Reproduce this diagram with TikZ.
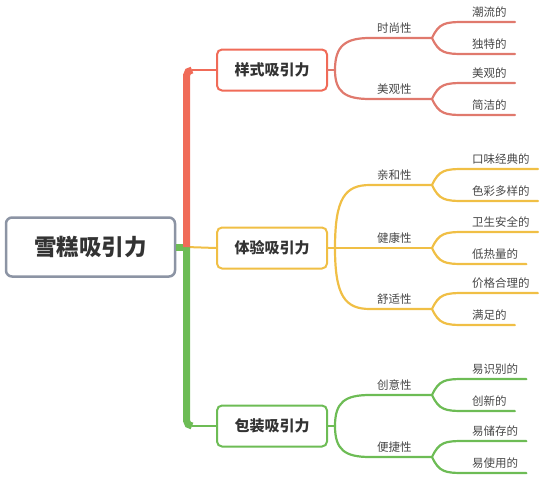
\documentclass[tikz,border=0pt]{standalone}
\usepackage{fontspec}
\setmainfont{Noto Sans CJK SC}
\usepackage{xcolor}
\usepackage{tikz}
\usetikzlibrary{positioning}

\definecolor{redtrunk}{HTML}{F06B58}
\definecolor{redbranch}{HTML}{E0796D}
\definecolor{yellowbranch}{HTML}{F0BF45}
\definecolor{greenbranch}{HTML}{6DBC55}
\definecolor{rootgray}{HTML}{8C94A4}
\definecolor{textgray}{HTML}{333333}

\begin{document}
\begin{tikzpicture}[
    x=1pt, y=-1pt,
    rootbox/.style={
        rectangle,
        rounded corners=6pt,
        draw=rootgray,
        line width=2.5pt,
        fill=white,
        minimum width=169pt,
        minimum height=59pt,
        text=textgray,
        font=\fontsize{22.5}{26}\selectfont\bfseries
    },
    topicbox/.style={
        rectangle,
        rounded corners=5pt,
        line width=2pt,
        fill=white,
        minimum width=110pt,
        minimum height=41pt,
        text=textgray,
        font=\fontsize{15}{18}\selectfont\bfseries
    },
    redbox/.style={topicbox, draw=redtrunk},
    yellowbox/.style={topicbox, draw=yellowbranch},
    greenbox/.style={topicbox, draw=greenbranch},
    subtopic/.style={
        anchor=south west,
        inner xsep=7pt,
        inner ysep=4.5pt,
        text=textgray!90,
        font=\fontsize{11.5}{14}\selectfont
    },
    leaf/.style={subtopic, inner xsep=8pt},
    trunkline/.style={line width=7pt},
    topicline/.style={line width=2pt},
    branch/.style={line width=2.2pt, line cap=round}
]
\useasboundingbox (0,0) rectangle (541,480);

% Root
\node[rootbox] (root) at (90.5,247) {雪糕吸引力};

% Main topics
\node[redbox] (style) at (272,70) {样式吸引力};
\node[yellowbox] (exp) at (272,248) {体验吸引力};
\node[greenbox] (pack) at (272,426) {包装吸引力};

% Trunk
\coordinate (trunk) at (186.5,247);
\coordinate (redbend) at (192,70);
\coordinate (greenbend) at (192,426);
\draw[topicline, redtrunk] (redbend) -- (style.west);
\draw[topicline, yellowbranch] (trunk) -- (exp.west);
\draw[topicline, greenbranch] (greenbend) -- (pack.west);
\draw[trunkline, greenbranch] (root.east) -- (trunk);
\draw[trunkline, greenbranch, rounded corners=5.5pt] (trunk) |- (greenbend);
\draw[trunkline, redtrunk, rounded corners=5.5pt] (trunk) |- (redbend);

% Subtopics - style
\coordinate (stylestub) at (335,70);
\node[subtopic] (fashion) at (370,38) {时尚性};
\node[subtopic] (beauty) at (370,99) {美观性};
\coordinate (fashionfork) at (432,38);
\coordinate (beautyfork) at (432,99);
\draw[branch, redbranch] (style.east) -- (stylestub);
\draw[branch, redbranch] (stylestub) .. controls (335,46) and (345,38) .. (fashion.south west) -- (fashionfork);
\draw[branch, redbranch] (stylestub) .. controls (335,92) and (345,99) .. (beauty.south west) -- (beautyfork);

% Leaves - style
\node[leaf] (trendy) at (464,22) {潮流的};
\node[leaf] (unique) at (464,54) {独特的};
\node[leaf] (pretty) at (464,83) {美观的};
\node[leaf] (simple) at (464,115) {简洁的};
\draw[branch, redbranch] (fashionfork) .. controls (439,23) and (445,22) .. (trendy.south west) -- (trendy.south east);
\draw[branch, redbranch] (fashionfork) .. controls (439,53) and (445,54) .. (unique.south west) -- (unique.south east);
\draw[branch, redbranch] (beautyfork) .. controls (439,84) and (445,83) .. (pretty.south west) -- (pretty.south east);
\draw[branch, redbranch] (beautyfork) .. controls (439,114) and (445,115) .. (simple.south west) -- (simple.south east);

% Subtopics - experience
\coordinate (expstub) at (335,248);
\node[subtopic] (affinity) at (370,185) {亲和性};
\node[subtopic] (health) at (370,248) {健康性};
\node[subtopic] (comfort) at (370,309) {舒适性};
\coordinate (affinityfork) at (432,185);
\coordinate (healthfork) at (432,248);
\coordinate (comfortfork) at (432,309);
\draw[branch, yellowbranch] (exp.east) -- (expstub);
\draw[branch, yellowbranch] (expstub) .. controls (335,198) and (345,185) .. (affinity.south west) -- (affinityfork);
\draw[branch, yellowbranch] (expstub) -- (health.south west) -- (healthfork);
\draw[branch, yellowbranch] (expstub) .. controls (335,296) and (345,309) .. (comfort.south west) -- (comfortfork);

% Leaves - experience
\node[leaf] (classic) at (464,169) {口味经典的};
\node[leaf] (colorful) at (464,201) {色彩多样的};
\node[leaf] (safe) at (464,232) {卫生安全的};
\node[leaf] (lowcal) at (464,264) {低热量的};
\node[leaf] (price) at (464,293) {价格合理的};
\node[leaf] (satisfy) at (464,325) {满足的};
\draw[branch, yellowbranch] (affinityfork) .. controls (439,170) and (445,169) .. (classic.south west) -- (classic.south east);
\draw[branch, yellowbranch] (affinityfork) .. controls (439,200) and (445,201) .. (colorful.south west) -- (colorful.south east);
\draw[branch, yellowbranch] (healthfork) .. controls (439,233) and (445,232) .. (safe.south west) -- (safe.south east);
\draw[branch, yellowbranch] (healthfork) .. controls (439,263) and (445,264) .. (lowcal.south west) -- (lowcal.south east);
\draw[branch, yellowbranch] (comfortfork) .. controls (439,294) and (445,293) .. (price.south west) -- (price.south east);
\draw[branch, yellowbranch] (comfortfork) .. controls (439,324) and (445,325) .. (satisfy.south west) -- (satisfy.south east);

% Subtopics - package
\coordinate (packstub) at (335,426);
\node[subtopic] (creative) at (370,395) {创意性};
\node[subtopic] (handy) at (370,457) {便捷性};
\coordinate (creativefork) at (432,395);
\coordinate (handyfork) at (432,457);
\draw[branch, greenbranch] (pack.east) -- (packstub);
\draw[branch, greenbranch] (packstub) .. controls (335,402) and (345,395) .. (creative.south west) -- (creativefork);
\draw[branch, greenbranch] (packstub) .. controls (335,450) and (345,457) .. (handy.south west) -- (handyfork);

% Leaves - package
\node[leaf] (known) at (464,379) {易识别的};
\node[leaf] (novel) at (464,411) {创新的};
\node[leaf] (store) at (464,441) {易储存的};
\node[leaf] (use) at (464,473) {易使用的};
\draw[branch, greenbranch] (creativefork) .. controls (439,380) and (445,379) .. (known.south west) -- (known.south east);
\draw[branch, greenbranch] (creativefork) .. controls (439,410) and (445,411) .. (novel.south west) -- (novel.south east);
\draw[branch, greenbranch] (handyfork) .. controls (439,442) and (445,441) .. (store.south west) -- (store.south east);
\draw[branch, greenbranch] (handyfork) .. controls (439,472) and (445,473) .. (use.south west) -- (use.south east);

\end{tikzpicture}
\end{document}
